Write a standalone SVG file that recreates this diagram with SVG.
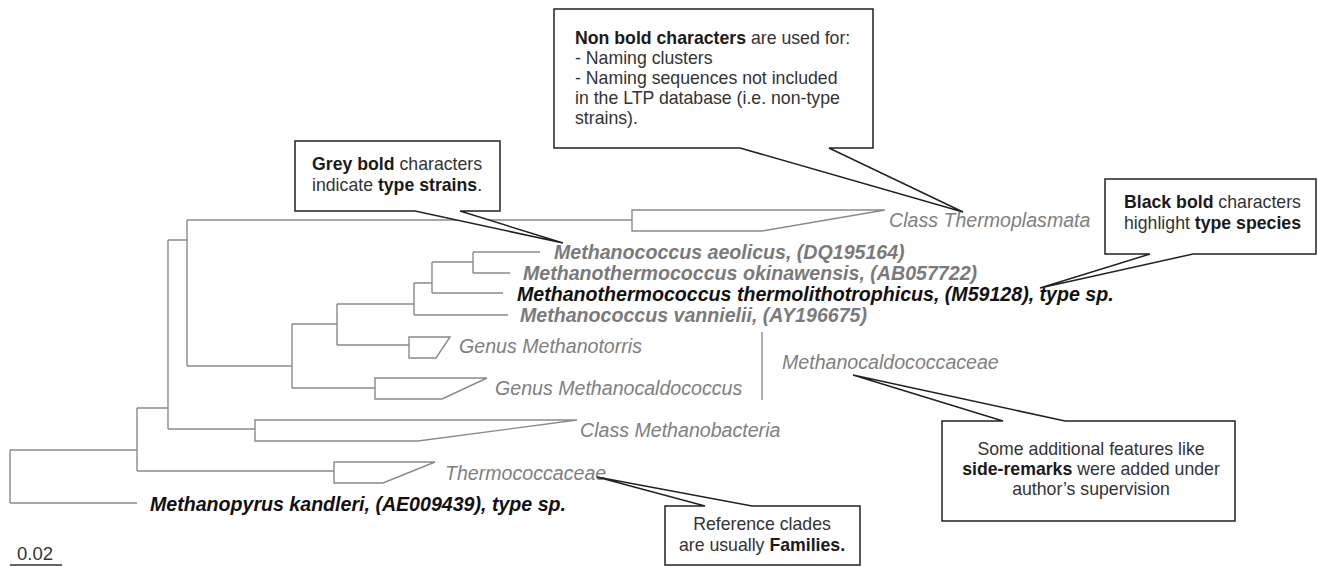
<svg xmlns="http://www.w3.org/2000/svg" width="1318" height="567" viewBox="0 0 1318 567">
<style>
.br{fill:none;stroke:#8a8a8a;stroke-width:1.4}
.tri{fill:#fff;stroke:#8a8a8a;stroke-width:1.4}
.lab{font-family:"Liberation Sans",Arial,sans-serif;font-size:19.6px;font-style:italic;fill:#808080}
.gb{font-family:"Liberation Sans",Arial,sans-serif;font-size:19.6px;font-style:italic;font-weight:bold;fill:#7a7a7a}
.kb{font-family:"Liberation Sans",Arial,sans-serif;font-size:19.6px;font-style:italic;font-weight:bold;fill:#111}
.co{fill:#fff;stroke:#222;stroke-width:1.5;stroke-linejoin:miter}
.ct{font-family:"Liberation Sans",Arial,sans-serif;font-size:17.7px;fill:#333}
.ct tspan.b{font-weight:bold;fill:#1a1a1a}
.sc{font-family:"Liberation Sans",Arial,sans-serif;font-size:18.5px;fill:#333}
</style>
<g id="connectors">
<path class="br" d="M10,450V503M10,450H137M10,503H137"/>
<path class="br" d="M137,408V471M137,408H168M137,471H334"/>
<path class="br" d="M168,240V429M168,240H187M168,429H255"/>
<path class="br" d="M187,220V366M187,220H632M187,366H292"/>
<path class="br" d="M292,324V388M292,324H337M292,388H375"/>
<path class="br" d="M337,304V345M337,304H414M337,345H409"/>
<path class="br" d="M414,283V315M414,283H432M414,315H508"/>
<path class="br" d="M432,262V293M432,262H473M432,293H503"/>
<path class="br" d="M473,252V273M473,252H540M473,273H510"/>
<path class="br" d="M762,332V400"/>
<path d="M10,565H62" style="stroke:#333;stroke-width:1.3;fill:none"/>
</g>
<g id="clade-thermoplasmata"><path class="tri" d="M632,210H885L762,231H632Z"/><text class="lab" x="889" y="227">Class Thermoplasmata</text></g>
<g id="clade-methanotorris"><path class="tri" d="M409,337H450L436,358H409Z"/><text class="lab" x="459" y="353">Genus Methanotorris</text></g>
<g id="clade-methanocaldococcus"><path class="tri" d="M375,378H487L442,399H375Z"/><text class="lab" x="495" y="395">Genus Methanocaldococcus</text></g>
<g id="clade-methanobacteria"><path class="tri" d="M255,420H577L418,441H255Z"/><text class="lab" x="580" y="437">Class Methanobacteria</text></g>
<g id="clade-thermococcaceae"><path class="tri" d="M334,462H435L383,483H334Z"/><text class="lab" x="445" y="480">Thermococcaceae</text></g>
<g id="leaf-aeolicus"><text class="gb" x="554" y="259">Methanococcus aeolicus, (DQ195164)</text></g>
<g id="leaf-okinawensis"><text class="gb" x="523" y="280">Methanothermococcus okinawensis, (AB057722)</text></g>
<g id="leaf-thermolithotrophicus"><text class="kb" x="517" y="301">Methanothermococcus thermolithotrophicus, (M59128), type sp.</text></g>
<g id="leaf-vannielii"><text class="gb" x="520" y="322">Methanococcus vannielii, (AY196675)</text></g>
<g id="leaf-kandleri"><text class="kb" x="150" y="511">Methanopyrus kandleri, (AE009439), type sp.</text></g>
<g id="family-label"><text class="lab" x="782" y="369">Methanocaldococcaceae</text></g>
<g id="scale"><text class="sc" x="17" y="560">0.02</text></g>
<g id="callout-nonbold"><path class="co" d="M554,9H873V148H829L963,212L740,148H554Z"/>
<text class="ct" x="575" y="44"><tspan class="b">Non bold characters</tspan> are used for:</text>
<text class="ct" x="575" y="64">- Naming clusters</text>
<text class="ct" x="575" y="84">- Naming sequences not included</text>
<text class="ct" x="575" y="104">in the LTP database (i.e. non-type</text>
<text class="ct" x="575" y="124">strains).</text></g>
<g id="callout-grey"><path class="co" d="M295,141H500V211H460L563,243L415,211H295Z"/>
<text class="ct" x="312" y="170"><tspan class="b">Grey bold</tspan> characters</text>
<text class="ct" x="312" y="191">indicate <tspan class="b">type strains</tspan>.</text></g>
<g id="callout-black"><path class="co" d="M1105,179H1316V254H1193L1040,288L1150,254H1105Z"/>
<text class="ct" x="1124" y="208"><tspan class="b">Black bold</tspan> characters</text>
<text class="ct" x="1124" y="229">highlight <tspan class="b">type species</tspan></text></g>
<g id="callout-side"><path class="co" d="M942,421H1003L853,375L1065,421H1235V521H942Z"/>
<text class="ct" x="1091" y="455" text-anchor="middle">Some additional features like</text>
<text class="ct" x="1091" y="475" text-anchor="middle"><tspan class="b">side-remarks</tspan> were added under</text>
<text class="ct" x="1091" y="495" text-anchor="middle">author’s supervision</text></g>
<g id="callout-ref"><path class="co" d="M665,506H705L597,477L752,506H860V565H665Z"/>
<text class="ct" x="762" y="530" text-anchor="middle">Reference clades</text>
<text class="ct" x="762" y="551" text-anchor="middle">are usually <tspan class="b">Families.</tspan></text></g>
</svg>
